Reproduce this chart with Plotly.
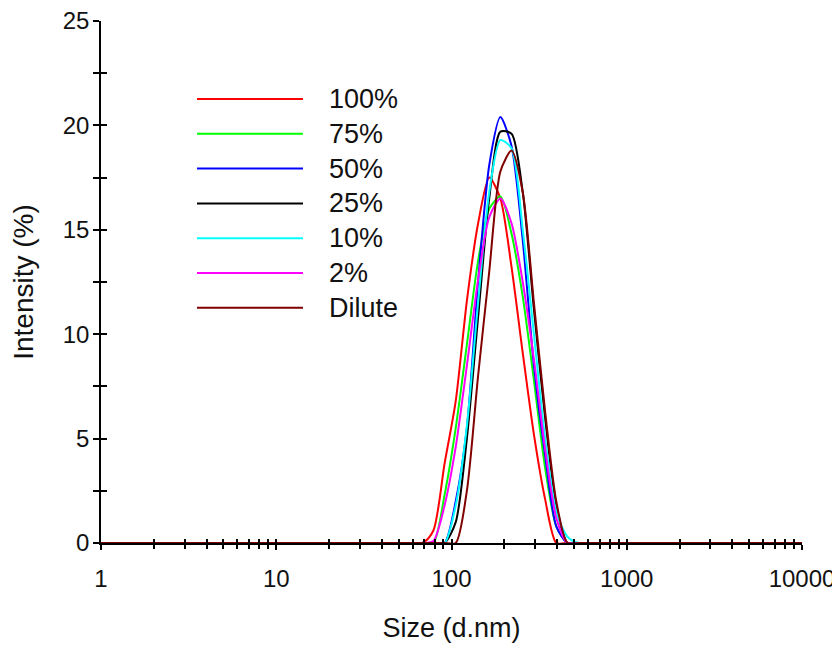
import plotly.graph_objects as go

# ---- data ----
sizes = [1, 68.06, 78.82, 91.28, 105.7, 122.4, 141.8, 164.2, 190.1, 220.2,
         255.0, 295.3, 342.0, 396.1, 458.7, 531.2, 10000]

i_100 = [0, 0, 0.6, 3.8, 6.8, 11.6, 15.3, 17.5, 16.5, 13.2, 9.1, 5.2, 2.1, 0, 0, 0, 0]
i_75 = [0, 0, 0, 2.3, 5.5, 9.5, 13.5, 16.0, 16.6, 14.8, 11.8, 7.8, 3.6, 0.8, 0, 0, 0]
i_50 = [0, 0, 0, 0, 2.0, 5.5, 12.5, 18.1, 20.4, 19.0, 14.5, 8.5, 4.2, 0.8, 0, 0, 0]
i_25 = [0, 0, 0, 0, 1.0, 5.0, 10.8, 16.5, 19.7, 19.6, 16.8, 11.2, 6.0, 1.8, 0, 0, 0]
i_10 = [0, 0, 0, 0, 1.8, 5.6, 11.5, 16.8, 19.3, 18.9, 15.0, 10.0, 5.0, 1.5, 0.3, 0, 0]
i_2 = [0, 0, 0.1, 1.8, 4.6, 8.5, 12.6, 15.6, 16.5, 15.3, 12.5, 8.8, 4.5, 1.2, 0, 0, 0]
i_dilute = [0, 0, 0, 0, 0, 2.5, 8.0, 13.0, 17.8, 18.8, 16.8, 11.5, 6.3, 2.0, 0, 0, 0]

names = ["100%", "75%", "50%", "25%", "10%", "2%", "Dilute"]
series = [i_100, i_75, i_50, i_25, i_10, i_2, i_dilute]
colors = ["#FF0000", "#00FF00", "#0000FF", "#000000", "#00FFFF", "#FF00FF", "#800000"]

x_ticks = [1, 10, 100, 1000, 10000]
x_ticklabels = ["1", "10", "100", "1000", "10000"]
y_ticks = [0, 5, 10, 15, 20, 25]

# ---- layout constants (pixels) ----
# the page body adds an 8px offset, so the figure is 8px smaller and shifted
OFF = 8
W, H = 840 - OFF, 645 - OFF
L, R, T, B = 101 - OFF, 38, 21 - OFF, 102
PW, PH = W - L - R, H - T - B
FONT = "Liberation Sans, Arial, sans-serif"
FS = 24

fig = go.Figure()
for name, vals, col in zip(names, series, colors):
    fig.add_trace(go.Scatter(x=sizes, y=vals, mode="lines", name=name,
                             line=dict(color=col, width=2, shape="spline", smoothing=0.7),
                             showlegend=False))

# carrier trace for the overlay axes (inside half of the crossing ticks)
fig.add_trace(go.Scatter(x=[1], y=[0], mode="lines", xaxis="x2", yaxis="y2",
                         showlegend=False, hoverinfo="skip",
                         line=dict(width=0, color="rgba(0,0,0,0)")))

# manual legend with long line samples (window pixel positions)
leg_top, leg_step = 99, 34.8
for k, (name, col) in enumerate(zip(names, colors)):
    py = leg_top - OFF + leg_step * k
    yp = (H - B - py) / PH
    fig.add_shape(type="line", xref="paper", yref="paper",
                  x0=(197 - OFF - L) / PW, x1=(303 - OFF - L) / PW, y0=yp, y1=yp,
                  line=dict(color=col, width=2))
    fig.add_annotation(xref="paper", yref="paper", x=(327 - OFF - L) / PW, y=yp,
                       text=name, showarrow=False, xanchor="left", yanchor="middle",
                       font=dict(family=FONT, size=27, color="#111111"))

tick_style = dict(tickcolor="#000000", tickwidth=1.5)

fig.update_layout(
    width=W, height=H,
    margin=dict(l=L, r=R, t=T, b=B, pad=0),
    paper_bgcolor="#FFFFFF", plot_bgcolor="#FFFFFF",
    font=dict(family=FONT, size=FS, color="#111111"),
    xaxis=dict(type="log", range=[0, 4], automargin=False,
               showgrid=False, zeroline=False,
               showline=True, linewidth=1.5, linecolor="#000000",
               ticks="outside", ticklen=5, tickvals=x_ticks, ticktext=x_ticklabels,
               ticklabelstandoff=8, ticklabeloverflow="allow",
               tickfont=dict(family=FONT, size=FS),
               layer="below traces", **tick_style,
               minor=dict(ticks="outside", ticklen=4, dtick="D1", showgrid=False,
                          **tick_style),
               title=dict(text="Size (d.nm)", standoff=28,
                          font=dict(family=FONT, size=27))),
    yaxis=dict(range=[0, 25], automargin=False,
               showgrid=False, zeroline=False,
               showline=True, linewidth=1.5, linecolor="#000000",
               ticks="outside", ticklen=6, tickvals=y_ticks,
               ticklabelstandoff=-1, ticklabeloverflow="allow",
               tickfont=dict(family=FONT, size=FS),
               layer="below traces", **tick_style,
               minor=dict(ticks="outside", ticklen=6, dtick=2.5, showgrid=False,
                          **tick_style),
               title=dict(text="Intensity (%)", standoff=21,
                          font=dict(family=FONT, size=28))),
    xaxis2=dict(type="log", range=[0, 4], overlaying="x", anchor="y2",
                automargin=False, showgrid=False, zeroline=False, showline=False,
                showticklabels=False, ticks="inside", ticklen=4, tickvals=x_ticks,
                **tick_style,
                minor=dict(ticks="inside", ticklen=4, dtick="D1", showgrid=False,
                           **tick_style)),
    yaxis2=dict(range=[0, 25], overlaying="y", anchor="x2", side="left",
                automargin=False, showgrid=False, zeroline=False, showline=False,
                showticklabels=False, ticks="inside", ticklen=6, tickvals=y_ticks,
                **tick_style,
                minor=dict(ticks="inside", ticklen=6, dtick=2.5, showgrid=False,
                           **tick_style)),
)

fig.write_html("out.html")
